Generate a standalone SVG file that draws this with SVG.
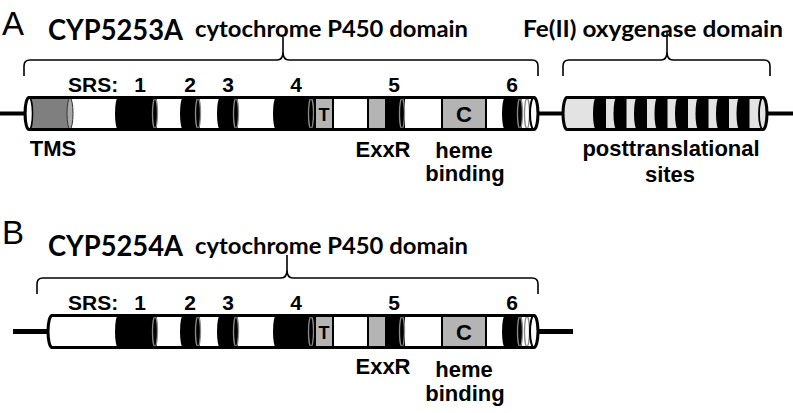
<svg xmlns="http://www.w3.org/2000/svg" xmlns:xlink="http://www.w3.org/1999/xlink" width="793" height="413" viewBox="0 0 793 413">
<style>
.lbl{font-family:"Liberation Sans",Arial,sans-serif;font-weight:bold;font-size:22px;fill:#000}
.mid{text-anchor:middle}
.num{font-family:"Liberation Sans",Arial,sans-serif;font-weight:bold;font-size:21px;text-anchor:middle}
.hdr{font-family:Lato,"Liberation Sans",sans-serif;font-weight:bold;fill:#000}
.panel{font-family:"Liberation Sans",Arial,sans-serif;font-size:33px}
.brace{fill:none;stroke:#000;stroke-width:1.6}
.band{fill:#000}
.face{fill:none;stroke:#8a8a8a;stroke-width:1.3}
.box{fill:#b4b4b4;stroke:#000;stroke-width:2}
.outline{fill:none;stroke:#000;stroke-width:3}
.wire{stroke:#000;fill:none}
</style>
<defs>
<g id="p450core">
<path class="band" d="M118,-16 H157 V16 H118 A3,16 0 0 1 118,-16 Z"/>
<ellipse class="face" cx="155" cy="0" rx="2.5" ry="15"/>
<path class="band" d="M183,-16 H200 V16 H183 A3,16 0 0 1 183,-16 Z"/>
<ellipse class="face" cx="198" cy="0" rx="2.5" ry="15"/>
<path class="band" d="M220,-16 H238 V16 H220 A3,16 0 0 1 220,-16 Z"/>
<ellipse class="face" cx="236" cy="0" rx="2.5" ry="15"/>
<path class="band" d="M276,-16 H315 V16 H276 A3,16 0 0 1 276,-16 Z"/>
<ellipse class="face" cx="311" cy="0" rx="2.5" ry="15"/>
<rect class="box" x="315" y="-16" width="18" height="32"/>
<text class="lbl mid" x="324" y="7" style="font-size:18px">T</text>
<path class="band" d="M386,-16 H405 V16 H386 Z"/>
<ellipse class="face" cx="402" cy="0" rx="2.5" ry="15"/>
<rect class="box" x="368" y="-16" width="18" height="32"/>
<rect class="box" x="442" y="-16" width="44" height="32"/>
<text class="lbl mid" x="464" y="8" style="font-size:22px">C</text>
<path class="band" d="M505,-16 H522 V16 H505 A3,16 0 0 1 505,-16 Z"/>
<ellipse class="face" cx="520" cy="0" rx="2.5" ry="15"/>
<ellipse class="face" cx="527" cy="0" rx="2.5" ry="15"/>
<ellipse cx="534" cy="0" rx="4" ry="16" fill="none" stroke="#000" stroke-width="2"/>
</g>
</defs>

<g id="connectors">
<line class="wire" x1="0" y1="113.5" x2="27" y2="113.5" stroke-width="4"/>
<line class="wire" x1="537" y1="113.5" x2="565" y2="113.5" stroke-width="4"/>
<line class="wire" x1="766" y1="113.5" x2="793" y2="113.5" stroke-width="4"/>
<line class="wire" x1="13" y1="331.5" x2="50" y2="331.5" stroke-width="5"/>
<line class="wire" x1="537" y1="331.5" x2="573" y2="331.5" stroke-width="5"/>
</g>

<g id="panelA">
<text class="panel" x="2" y="35">A</text>
<text class="hdr" x="48" y="40" font-size="28" textLength="135" lengthAdjust="spacingAndGlyphs">CYP5253A</text>
<text class="hdr" x="195" y="37" font-size="23" textLength="273" lengthAdjust="spacingAndGlyphs">cytochrome P450 domain</text>
<text class="hdr" x="523" y="37" font-size="23" textLength="260" lengthAdjust="spacingAndGlyphs">Fe(II) oxygenase domain</text>
<path class="brace" d="M24,76 V66 Q24,60 30,60 H277 Q283,60 283,52 V37 V52 Q283,60 289,60 H532 Q538,60 538,66 V76"/>
<path class="brace" d="M563,76 V66 Q563,60 569,60 H661 Q667,60 667,52 V31 V52 Q667,60 673,60 H764 Q770,60 770,66 V76"/>
<text class="lbl" x="68" y="92" style="font-size:21px">SRS:</text>
<text class="num" x="140" y="92">1</text>
<text class="num" x="190" y="92">2</text>
<text class="num" x="228" y="92">3</text>
<text class="num" x="296" y="92">4</text>
<text class="num" x="394" y="92">5</text>
<text class="num" x="512" y="92">6</text>
</g>

<g id="cyp5253a-p450" transform="translate(0,113.5)">
<path d="M29,-16 H534 A4,16 0 0 1 534,16 H29 A4,16 0 0 1 29,-16 Z" fill="#fff"/>
<rect x="29" y="-16" width="41" height="32" fill="#7f7f7f"/>
<ellipse cx="70" cy="0" rx="3" ry="15.5" fill="#a8a8a8" stroke="#333" stroke-width="1"/>
<ellipse cx="29" cy="0" rx="3.5" ry="16" fill="#fff" stroke="#000" stroke-width="1.5"/>
<use xlink:href="#p450core" href="#p450core"/>
<path class="outline" d="M29,-16 H534 A4,16 0 0 1 534,16 H29 A4,16 0 0 1 29,-16 Z"/>
</g>

<g id="cyp5253a-fe" transform="translate(0,113.5)">
<path d="M567,-16 H763 A4,16 0 0 1 763,16 H567 A4,16 0 0 1 567,-16 Z" fill="#e3e3e3"/>
<path class="band" d="M596,-16 H606 V16 H596 A3,16 0 0 1 596,-16 Z"/>
<path class="band" d="M616.5,-16 H626.5 V16 H616.5 A3,16 0 0 1 616.5,-16 Z"/>
<path class="band" d="M637,-16 H647 V16 H637 A3,16 0 0 1 637,-16 Z"/>
<path class="band" d="M657.5,-16 H667.5 V16 H657.5 A3,16 0 0 1 657.5,-16 Z"/>
<path class="band" d="M678,-16 H688 V16 H678 A3,16 0 0 1 678,-16 Z"/>
<path class="band" d="M698.5,-16 H708.5 V16 H698.5 A3,16 0 0 1 698.5,-16 Z"/>
<path class="band" d="M719,-16 H729 V16 H719 A3,16 0 0 1 719,-16 Z"/>
<path class="band" d="M739.5,-16 H749.5 V16 H739.5 A3,16 0 0 1 739.5,-16 Z"/>
<ellipse cx="763" cy="0" rx="4" ry="16" fill="#e3e3e3" stroke="#000" stroke-width="1.8"/>
<path class="outline" d="M567,-16 H763 A4,16 0 0 1 763,16 H567 A4,16 0 0 1 567,-16 Z"/>
</g>

<g id="labelsA">
<text class="lbl mid" x="53" y="156">TMS</text>
<text class="lbl mid" x="383" y="157">ExxR</text>
<text class="lbl mid" x="464" y="158">heme</text>
<text class="lbl mid" x="465" y="181">binding</text>
<text class="lbl mid" x="671" y="156">posttranslational</text>
<text class="lbl mid" x="670" y="182">sites</text>
</g>

<g id="panelB">
<text class="panel" x="2" y="244">B</text>
<text class="hdr" x="48" y="256" font-size="28" textLength="135" lengthAdjust="spacingAndGlyphs">CYP5254A</text>
<text class="hdr" x="195" y="254" font-size="23" textLength="273" lengthAdjust="spacingAndGlyphs">cytochrome P450 domain</text>
<path class="brace" d="M37,294 V284 Q37,278 43,278 H281 Q287,278 287,270 V255 V270 Q287,278 293,278 H532 Q538,278 538,284 V294"/>
<text class="lbl" x="68" y="310" style="font-size:21px">SRS:</text>
<text class="num" x="140" y="310">1</text>
<text class="num" x="190" y="310">2</text>
<text class="num" x="228" y="310">3</text>
<text class="num" x="296" y="310">4</text>
<text class="num" x="394" y="310">5</text>
<text class="num" x="512" y="310">6</text>
</g>

<g id="cyp5254a-p450" transform="translate(0,331.5)">
<path d="M52,-16 H534 A4,16 0 0 1 534,16 H52 A4,16 0 0 1 52,-16 Z" fill="#fff"/>
<use xlink:href="#p450core" href="#p450core"/>
<path class="outline" d="M52,-16 H534 A4,16 0 0 1 534,16 H52 A4,16 0 0 1 52,-16 Z"/>
</g>

<g id="labelsB">
<text class="lbl mid" x="383" y="374">ExxR</text>
<text class="lbl mid" x="464" y="377">heme</text>
<text class="lbl mid" x="465" y="401">binding</text>
</g>
</svg>
